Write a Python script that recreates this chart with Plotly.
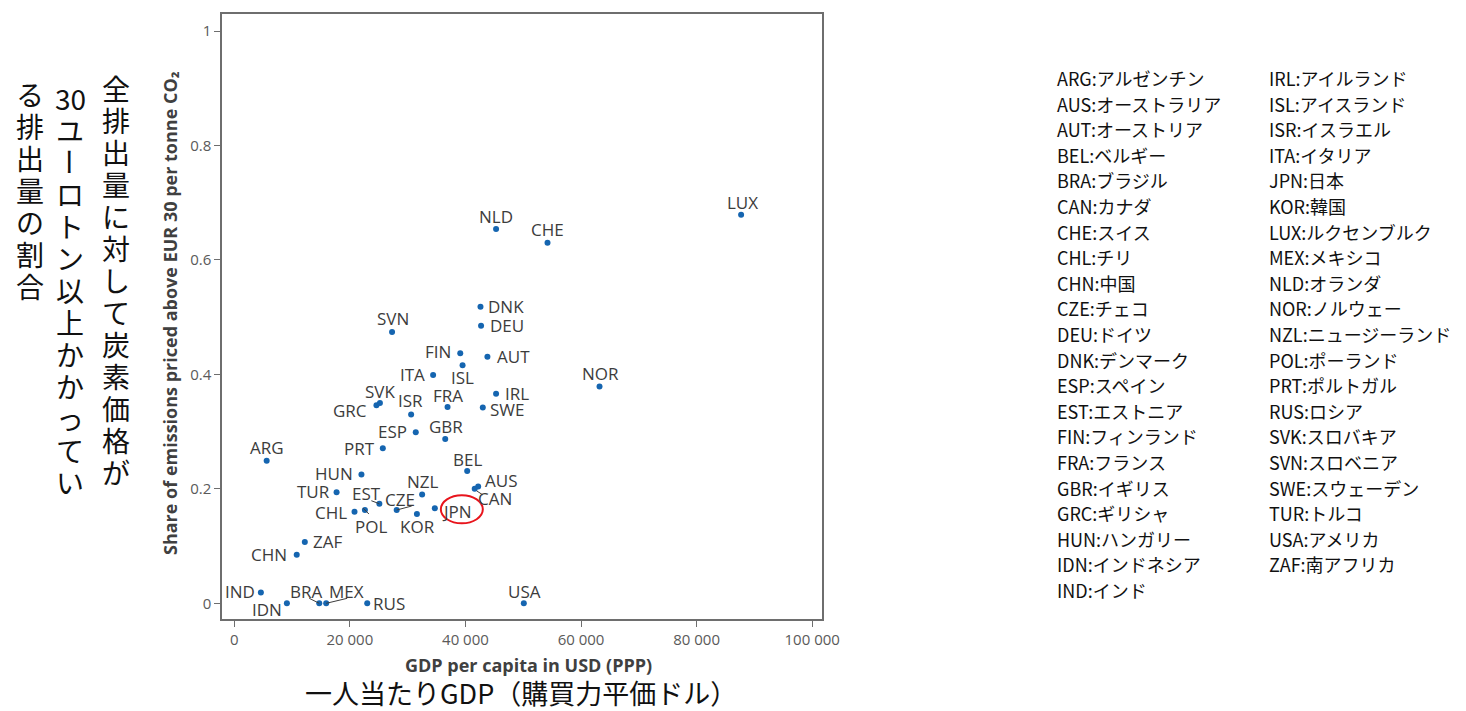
import plotly.graph_objects as go

# ---------------- data ----------------
codes = ["ARG", "AUS", "AUT", "BEL", "BRA", "CAN", "CHE", "CHL", "CHN", "CZE",
         "DEU", "DNK", "ESP", "EST", "FIN", "FRA", "GBR", "GRC", "HUN", "IDN",
         "IND", "IRL", "ISL", "ISR", "ITA", "JPN", "KOR", "LUX", "MEX", "NLD",
         "NOR", "NZL", "POL", "PRT", "RUS", "SVK", "SVN", "SWE", "TUR", "USA", "ZAF"]
gdp = [5600, 42200, 43800, 40300, 14700, 41600, 54200, 20800, 10800, 28100,
       42700, 42600, 31400, 25100, 39100, 36900, 36500, 24600, 22000, 9100,
       4600, 45300, 39500, 30600, 34400, 34700, 31600, 87700, 15900, 45300,
       63200, 32500, 22600, 25700, 23000, 25200, 27300, 43000, 17700, 50100, 12200]
share = [0.249, 0.204, 0.431, 0.231, 0.0, 0.200, 0.630, 0.160, 0.085, 0.163,
         0.485, 0.518, 0.299, 0.174, 0.437, 0.343, 0.287, 0.346, 0.225, 0.0,
         0.019, 0.366, 0.416, 0.330, 0.399, 0.166, 0.156, 0.679, 0.0, 0.654,
         0.379, 0.190, 0.163, 0.271, 0.0, 0.350, 0.474, 0.342, 0.194, 0.0, 0.107]
names_ja = ["アルゼンチン", "オーストラリア", "オーストリア", "ベルギー", "ブラジル", "カナダ",
            "スイス", "チリ", "中国", "チェコ", "ドイツ", "デンマーク", "スペイン", "エストニア",
            "フィンランド", "フランス", "イギリス", "ギリシャ", "ハンガリー", "インドネシア",
            "インド", "アイルランド", "アイスランド", "イスラエル", "イタリア", "日本", "韓国",
            "ルクセンブルク", "メキシコ", "オランダ", "ノルウェー", "ニュージーランド", "ポーランド",
            "ポルトガル", "ロシア", "スロバキア", "スロベニア", "スウェーデン", "トルコ", "アメリカ",
            "南アフリカ"]
x_ticks = [0, 20000, 40000, 60000, 80000, 100000]
y_ticks = [0, 0.2, 0.4, 0.6, 0.8, 1]
y_ticktext = ["0", "0.2", "0.4", "0.6", "0.8", "1"]
x_title = "GDP per capita in USD (PPP)"
y_title = "Share of emissions priced above EUR 30 per tonne CO₂"
x_title_ja = "一人当たりGDP（購買力平価ドル）"
y_title_ja_cols = [
    ["全", "排", "出", "量", "に", "対", "し", "て", "炭", "素", "価", "格", "が"],
    ["30", "ユ", "ー", "ロ", "ト", "ン", "以", "上", "か", "か", "っ", "て", "い"],
    ["る", "排", "出", "量", "の", "割", "合"],
]
highlight = "JPN"

# ---------------- layout helpers ----------------
W, H = 1466, 711
PL, PR, PT, PB = 222, 822, 14, 619   # plot frame in pixels


def px(xp):
    return (xp - PL) / (PR - PL)


def py(yp):
    return (PB - yp) / (PB - PT)


# label offsets (pixels: dx right, dy down)
label_pos = {
    "NLD": (0, -13), "CHE": (0, -13), "LUX": (1, -12), "NOR": (1, -13), "SVN": (1, -14),
    "DNK": (26, 0), "DEU": (26, 0), "AUT": (26, 0), "FIN": (-22, -2), "ISL": (0, 12),
    "ITA": (-21, 0), "IRL": (21, 0), "SWE": (24, 2), "SVK": (0, -12), "GRC": (-26, 5),
    "ISR": (-1, -14), "FRA": (0, -12), "ESP": (-23, -1), "GBR": (1, -13), "PRT": (-23, 0),
    "ARG": (0, -13), "BEL": (0, -12), "HUN": (-27, -1), "AUS": (23, -6), "CAN": (20, 10),
    "TUR": (-23, -1), "NZL": (1, -13), "EST": (-13, -10), "CZE": (3, -11), "CHL": (-24, 1),
    "POL": (6, 16), "KOR": (1, 12), "JPN": (22, 3), "ZAF": (23, -1), "CHN": (-28, 0),
    "IND": (-21, -1), "IDN": (-20, 6), "BRA": (-13, -12), "MEX": (20, -12), "RUS": (22, 0),
    "USA": (1, -12),
}
# short leader lines (pixel offsets from the point: x0, y0(down), x1, y1(down))
leader_lines = {
    "EST": (0, 0, -8, -3),
    "CZE": (0, 0, 15, -4),
    "POL": (-2, -2, 4, 4),
    "BRA": (0, 0, -10, -5),
    "MEX": (0, 0, 21, -5),
    "CAN": (2, 2, 8, 6),
}

lab_font = dict(family="Open Sans, DejaVu Sans, sans-serif", size=17, color="#3c3c3c")

fig = go.Figure()
fig.add_trace(go.Scatter(
    x=gdp, y=share, mode="markers",
    marker=dict(color="#1565b0", size=6),
    hoverinfo="text", text=codes, showlegend=False,
))

annotations = []
for c, xv, yv in zip(codes, gdp, share):
    dx, dy = label_pos[c]
    annotations.append(dict(
        x=xv, y=yv, xref="x", yref="y", text=c, showarrow=False,
        xanchor="center", yanchor="middle", xshift=dx, yshift=-dy,
        font=lab_font,
    ))

shapes = []
for c, (x0, y0, x1, y1) in leader_lines.items():
    i = codes.index(c)
    shapes.append(dict(
        type="line", xref="x", yref="y", xsizemode="pixel", ysizemode="pixel",
        xanchor=gdp[i], yanchor=share[i], x0=x0, x1=x1, y0=-y0, y1=-y1,
        line=dict(color="#3c3c3c", width=1),
    ))

# English axis titles
title_font = dict(family="Open Sans, sans-serif", size=18, color="#404040", weight="bold")
annotations.append(dict(
    x=px(528), y=py(665), xref="paper", yref="paper", text=x_title, showarrow=False,
    xanchor="center", yanchor="middle", font=title_font,
))
annotations.append(dict(
    x=px(170), y=py(313), xref="paper", yref="paper", text=y_title, showarrow=False,
    xanchor="center", yanchor="middle", textangle=-90, font=title_font,
))

# Japanese titles
ja_font = dict(family="Noto Sans CJK JP, sans-serif", size=28, color="#111111")
annotations.append(dict(
    x=px(521), y=py(692), xref="paper", yref="paper", text=x_title_ja, showarrow=False,
    xanchor="center", yanchor="middle",
    font=dict(family="Noto Sans CJK JP, sans-serif", size=27, color="#111111"),
))
col_x = [116, 70, 30]
col_y0 = [88, 98, 94]
step = 32
for cx, cy0, chars in zip(col_x, col_y0, y_title_ja_cols):
    for i, ch in enumerate(chars):
        annotations.append(dict(
            x=px(cx), y=py(cy0 + i * step), xref="paper", yref="paper", text=ch,
            showarrow=False, xanchor="center", yanchor="middle", font=ja_font,
            textangle=90 if ch == "ー" else 0,
        ))

# country code list (right side)
leg_font = dict(family="Noto Sans CJK JP, sans-serif", size=18, color="#111111")
n_first = 21
for i, (c, nm) in enumerate(zip(codes, names_ja)):
    col = 0 if i < n_first else 1
    row = i if i < n_first else i - n_first
    annotations.append(dict(
        x=px(1055 if col == 0 else 1267), y=py(78 + row * 25.6),
        xref="paper", yref="paper", text=f"{c}:{nm}", showarrow=False,
        xanchor="left", yanchor="middle", font=leg_font,
    ))

# highlight ellipse round Japan
jx = gdp[codes.index(highlight)]
jy = share[codes.index(highlight)]
shapes.append(dict(
    type="circle", xref="x", yref="y", xsizemode="pixel", ysizemode="pixel",
    xanchor=jx, yanchor=jy, x0=6, x1=48, y0=-15, y1=13,
    line=dict(color="#e8141c", width=2), fillcolor="rgba(0,0,0,0)",
))

axis_common = dict(
    showgrid=False, zeroline=False, showline=True, linecolor="#6e6e6e", linewidth=1.5,
    mirror=True, ticks="outside", ticklen=6, tickcolor="#6e6e6e", tickwidth=1,
    tickfont=dict(family="Open Sans, sans-serif", size=15, color="#5a5a5a"),
)

fig.update_layout(
    width=W, height=H,
    margin=dict(l=PL, r=W - PR, t=PT, b=H - PB),
    paper_bgcolor="white", plot_bgcolor="white",
    separators=". ",
    xaxis=dict(range=[-2130, 101700], tickvals=x_ticks, tickformat=",d", **axis_common),
    yaxis=dict(range=[-0.0274, 1.0297], tickvals=y_ticks, ticktext=y_ticktext, **axis_common),
    annotations=annotations,
    shapes=shapes,
    showlegend=False,
)

fig.write_html("out.html", config={"displayModeBar": False},
               post_script="document.body.style.margin='0';")
